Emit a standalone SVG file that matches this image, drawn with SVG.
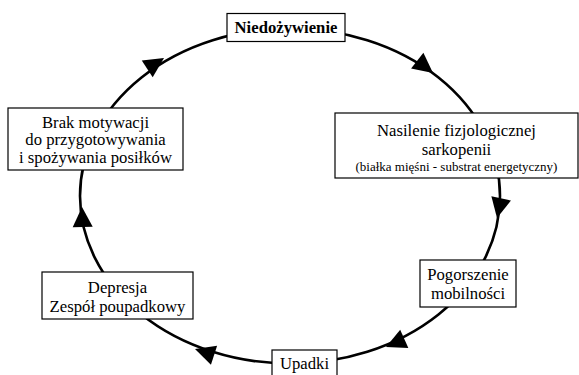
<svg xmlns="http://www.w3.org/2000/svg" xmlns:xlink="http://www.w3.org/1999/xlink" width="579" height="375" viewBox="0 0 579 375">
<style>
.box{fill:#fff;stroke:#000;stroke-width:1.2}
text{font-family:'Liberation Serif','DejaVu Serif',serif;font-size:16.7px;fill:#000;text-anchor:middle}
.b{font-weight:bold}
.s{font-size:13px}
.ring{fill:none;stroke:#000;stroke-width:2.6}
</style>
<defs>
<path id="ah" d="M0,0 L-20,-10 L-20,10 Z" fill="#000"/>
</defs>
<rect width="579" height="375" fill="#fff"/>
<g id="connectors">
<ellipse class="ring" cx="290" cy="196" rx="210" ry="167.5"/>
<use xlink:href="#ah" transform="translate(433,73) rotate(38)"/>
<use xlink:href="#ah" transform="translate(497,218) rotate(102)"/>
<use xlink:href="#ah" transform="translate(386,347) rotate(156)"/>
<use xlink:href="#ah" transform="translate(195,349) rotate(198)"/>
<use xlink:href="#ah" transform="translate(82,207) rotate(-92)"/>
<use xlink:href="#ah" transform="translate(164,58) rotate(-33)"/>
</g>
<g id="n1">
<rect class="box" x="227" y="13.5" width="118" height="28"/>
<text class="b" x="286" y="33">Niedożywienie</text>
</g>
<g id="n2">
<rect class="box" x="335" y="113" width="243" height="65"/>
<text x="456.5" y="136">Nasilenie fizjologicznej</text>
<text x="456.5" y="155">sarkopenii</text>
<text class="s" x="456.5" y="171">(białka mięśni - substrat energetyczny)</text>
</g>
<g id="n3">
<rect class="box" x="420" y="260" width="96" height="47"/>
<text x="468" y="280">Pogorszenie</text>
<text x="468" y="299">mobilności</text>
</g>
<g id="n4">
<rect class="box" x="272" y="350" width="65" height="30"/>
<text x="304.5" y="368.5">Upadki</text>
</g>
<g id="n5">
<rect class="box" x="42" y="272" width="151" height="47"/>
<text x="117.5" y="293">Depresja</text>
<text x="117.5" y="311.5">Zespół poupadkowy</text>
</g>
<g id="n6">
<rect class="box" x="8" y="108" width="175" height="62"/>
<text x="95.5" y="127.5">Brak motywacji</text>
<text x="95.5" y="145">do przygotowywania</text>
<text x="95.5" y="162.5">i spożywania posiłków</text>
</g>
</svg>
